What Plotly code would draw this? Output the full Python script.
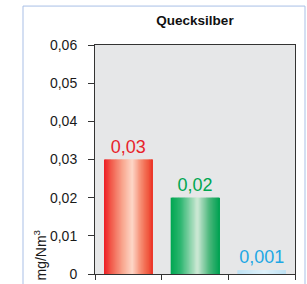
import plotly.graph_objects as go

categories = [0, 1, 2]
values = [0.03, 0.02, 0.001]
labels = ["0,03", "0,02", "0,001"]
label_colors = ["#e8232b", "#00a651", "#1ea7e4"]
# horizontal colour profile of each bar's gradient: (position across bar, rgb)
gradients = [
    [(0.0, (237, 28, 36)), (0.15, (242, 92, 76)), (0.4, (249, 172, 148)),
     (0.58, (253, 215, 200)), (0.75, (246, 142, 116)), (0.9, (240, 92, 66)), (1.0, (236, 52, 40))],
    [(0.0, (0, 166, 81)), (0.2, (45, 182, 112)), (0.55, (207, 233, 214)),
     (0.8, (72, 182, 122)), (1.0, (0, 162, 82))],
    [(0.0, (190, 226, 244)), (0.55, (222, 241, 250)), (1.0, (190, 226, 244))],
]
y_ticks = [0, 0.01, 0.02, 0.03, 0.04, 0.05, 0.06]
y_tick_text = ["0", "0,01", "0,02", "0,03", "0,04", "0,05", "0,06"]

M = 40
BW = 0.73


def color_at(profile, f):
    for (p0, c0), (p1, c1) in zip(profile[:-1], profile[1:]):
        if p0 <= f <= p1:
            t = (f - p0) / (p1 - p0)
            return "rgb(%d,%d,%d)" % tuple(round(c0[j] + (c1[j] - c0[j]) * t) for j in range(3))
    return "rgb(%d,%d,%d)" % profile[-1][1]


fig = go.Figure()
for i, (c, v) in enumerate(zip(categories, values)):
    sw = BW / M
    for s in range(M):
        f = (s + 0.5) / M
        left = -BW / 2 + s * sw
        w = min(sw * 1.8, BW / 2 - left)
        fig.add_trace(go.Bar(
            x=[c], y=[v], width=w, offset=left,
            marker=dict(color=color_at(gradients[i], f), line=dict(width=0)),
            hoverinfo="skip", showlegend=False,
        ))
    fig.add_trace(go.Bar(
        x=[c], y=[v], width=BW, marker=dict(color="rgba(0,0,0,0)", line=dict(width=0)),
        text=[labels[i]], textposition="outside", cliponaxis=False,
        textfont=dict(color=label_colors[i], size=18, family="Liberation Sans"),
        hoverinfo="skip", showlegend=False,
    ))

fig.update_layout(
    width=307, height=284,
    margin=dict(l=95, r=12, t=45, b=10, pad=0),
    barmode="overlay",
    paper_bgcolor="white",
    plot_bgcolor="#e6e7e8",
    font=dict(family="Liberation Sans", color="#222222"),
    title=dict(text="<b>Quecksilber</b>", x=0.5, xref="paper", xanchor="center",
               y=1 - 20 / 284, yanchor="middle",
               font=dict(size=13.5, family="Liberation Sans", color="#111111")),
    xaxis=dict(range=[-0.5, 2.5], tickvals=[-0.5, 0.5, 1.5, 2.5], showticklabels=False,
               ticks="outside", ticklen=5, tickcolor="#333333", showline=True,
               linecolor="#333333", linewidth=1, mirror=True, showgrid=False, zeroline=False,
               automargin=False),
    yaxis=dict(range=[0, 0.06], tickvals=y_ticks, ticktext=y_tick_text, ticks="outside",
               ticklen=6, tickcolor="#333333", showline=True, linecolor="#333333",
               linewidth=1, mirror=True, showgrid=False, zeroline=False,
               tickfont=dict(size=14, color="#1a1a1a"), ticklabelstandoff=8,
               automargin=False),
    shapes=[dict(type="rect", xref="paper", yref="paper", x0=-0.36, x1=1.05,
                 y0=-0.2, y1=1.17, line=dict(color="#a9bfe6", width=1), layer="below")],
    annotations=[dict(text="mg/Nm<sup>3</sup>", xref="paper", yref="paper",
                      x=-0.275, y=0.085, textangle=-90, showarrow=False,
                      font=dict(size=14, color="#1a1a1a"), xanchor="center", yanchor="middle")],
)

fig.write_html("out.html", config={"displayModeBar": False},
               post_script="document.body.style.margin='0';document.body.style.overflow='hidden';")
